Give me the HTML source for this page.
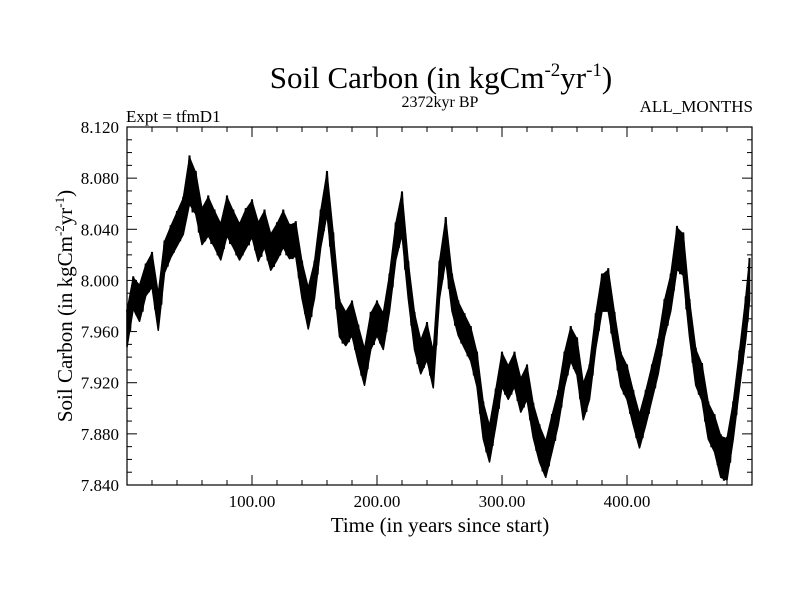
<!DOCTYPE html>
<html><head><meta charset="utf-8">
<style>
body{margin:0;background:#fff;}
svg text{font-family:"Liberation Serif",serif;fill:#000;}
</style></head>
<body>
<svg id="chart" width="800" height="600" xmlns="http://www.w3.org/2000/svg">
<text x="441" y="88" font-size="31" text-anchor="middle">Soil Carbon (in kgCm<tspan font-size="19" dy="-12">-2</tspan><tspan dy="12">yr</tspan><tspan font-size="19" dy="-12">-1</tspan><tspan dy="12">)</tspan></text>
<text x="440" y="107" font-size="16" text-anchor="middle">2372kyr BP</text>
<text x="126" y="122" font-size="17">Expt = tfmD1</text>
<text x="753" y="112" font-size="17" text-anchor="end">ALL_MONTHS</text>
<g id="plot"></g>
<text x="440" y="532" font-size="21" text-anchor="middle">Time (in years since start)</text>
<text transform="translate(72,306) rotate(-90)" font-size="21" text-anchor="middle">Soil Carbon (in kgCm<tspan font-size="13" dy="-8">-2</tspan><tspan dy="8">yr</tspan><tspan font-size="13" dy="-8">-1</tspan><tspan dy="8">)</tspan></text>
</svg>
<script>
const years=[0,5,10,15,20,25,30,35,40,45,50,55,60,65,70,75,80,85,90,95,100,105,110,115,120,125,130,135,140,145,150,155,160,165,170,175,180,185,190,195,200,205,210,215,220,225,230,235,240,245,250,255,260,265,270,275,280,285,290,295,300,305,310,315,320,325,330,335,340,345,350,355,360,365,370,375,380,385,390,395,400,405,410,415,420,425,430,435,440,445,450,455,460,465,470,475,480,485,490,495,498];
const center=[7.962,7.99,7.982,8.0,8.008,7.975,8.018,8.03,8.04,8.05,8.078,8.068,8.042,8.05,8.04,8.03,8.05,8.04,8.03,8.04,8.048,8.03,8.04,8.022,8.03,8.04,8.03,8.032,8.0,7.978,8.0,8.04,8.068,8.02,7.97,7.962,7.97,7.95,7.932,7.96,7.97,7.96,7.99,8.03,8.052,8.0,7.96,7.94,7.952,7.93,8.0,8.032,7.99,7.97,7.96,7.95,7.93,7.89,7.872,7.9,7.93,7.92,7.93,7.91,7.92,7.89,7.872,7.86,7.88,7.9,7.93,7.95,7.94,7.905,7.92,7.96,7.99,7.992,7.96,7.93,7.92,7.9,7.882,7.9,7.92,7.94,7.97,7.99,8.025,8.02,7.97,7.932,7.92,7.89,7.88,7.862,7.86,7.89,7.93,7.97,8.0];
const amp=[0.014,0.012,0.014,0.012,0.013,0.014,0.012,0.012,0.013,0.014,0.018,0.016,0.014,0.015,0.014,0.014,0.015,0.014,0.014,0.015,0.014,0.015,0.014,0.014,0.014,0.014,0.013,0.013,0.014,0.016,0.014,0.014,0.016,0.016,0.014,0.013,0.013,0.014,0.014,0.014,0.013,0.014,0.014,0.014,0.016,0.014,0.014,0.013,0.014,0.014,0.014,0.016,0.014,0.013,0.013,0.013,0.013,0.014,0.014,0.014,0.013,0.013,0.013,0.013,0.013,0.013,0.014,0.014,0.014,0.013,0.013,0.013,0.014,0.014,0.013,0.013,0.014,0.016,0.014,0.013,0.013,0.013,0.013,0.013,0.013,0.013,0.014,0.014,0.016,0.016,0.014,0.014,0.014,0.014,0.014,0.016,0.016,0.014,0.014,0.016,0.016];
const yTicks=[7.84,7.88,7.92,7.96,8.0,8.04,8.08,8.12];
const yTickLabels=["7.840","7.880","7.920","7.960","8.000","8.040","8.080","8.120"];
const xTicks=[100,200,300,400];
const xTickLabels=["100.00","200.00","300.00","400.00"];
const L=127,R=752,T=127,B=485,X0=0,X1=500,Y0=7.84,Y1=8.12;
const sx=v=>L+(v-X0)/(X1-X0)*(R-L);
const sy=v=>B-(v-Y0)/(Y1-Y0)*(B-T);
const NS="http://www.w3.org/2000/svg";
const g=document.getElementById('plot');
function mk(tag,attrs){const e=document.createElementNS(NS,tag);for(const k in attrs)e.setAttribute(k,attrs[k]);g.appendChild(e);return e;}
let up=[],lo=[];
for(let i=0;i<years.length;i++){up.push(sx(years[i])+','+sy(center[i]+amp[i]));lo.unshift(sx(years[i])+','+sy(center[i]-amp[i]));}
const band=mk('polygon',{points:up.concat(lo).join(' '),fill:'#000',stroke:'#000','stroke-width':'1.5','stroke-linejoin':'round'});


let zz=[];
for(let i=0;i<years.length;i++){zz.push(sx(years[i])+','+sy(center[i]+amp[i]*1.1));if(i<years.length-1){const m=(years[i]+years[i+1])/2;const c=(center[i]+center[i+1])/2;zz.push(sx(m)+','+sy(c-amp[i]*1.1));}}
const line=mk('polyline',{points:zz.join(' '),fill:'none',stroke:'#000','stroke-width':'2'});


const frame=mk('rect',{x:L,y:T,width:R-L,height:B-T,fill:'none',stroke:'#000','stroke-width':'1.2'});


for(let v=20;v<X1;v+=20){const big=v%100===0;
 const t=mk('line',{x1:sx(v),x2:sx(v),y1:B,y2:B-(big?10:5),stroke:'#000','stroke-width':'1'});
 
 const t2=mk('line',{x1:sx(v),x2:sx(v),y1:T,y2:T+(big?10:5),stroke:'#000','stroke-width':'1'});
 }
for(let k=1;k<28;k++){const v=Y0+k*0.01;const big=k%4===0;
 const t=mk('line',{x1:L,x2:L+(big?10:5),y1:sy(v),y2:sy(v),stroke:'#000','stroke-width':'1'});
 
 const t2=mk('line',{x1:R,x2:R-(big?10:5),y1:sy(v),y2:sy(v),stroke:'#000','stroke-width':'1'});
 }
xTicks.forEach((v,i)=>{const t=mk('text',{x:sx(v),y:B+22,'font-size':'17','text-anchor':'middle'});t.textContent=xTickLabels[i];
 });
yTicks.forEach((v,i)=>{const t=mk('text',{x:L-8,y:sy(v)+6,'font-size':'17','text-anchor':'end'});t.textContent=yTickLabels[i];
 });
</script>
</body></html>
